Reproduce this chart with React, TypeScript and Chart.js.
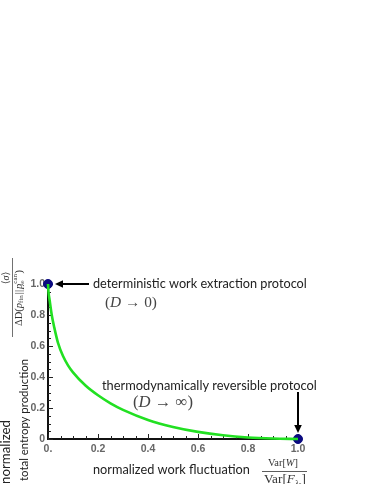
import React, { useEffect, useRef } from "react";
import { Chart, registerables } from "chart.js";

Chart.register(...registerables);

const curveX = [0, 0.002, 0.007, 0.015, 0.025, 0.04, 0.06, 0.08, 0.1, 0.15, 0.2, 0.25, 0.3, 0.4, 0.5, 0.6, 0.7, 0.8, 0.9, 1.0];
const curveY = [1, 0.95, 0.89, 0.8, 0.72, 0.62, 0.535, 0.475, 0.43, 0.345, 0.282, 0.23, 0.188, 0.123, 0.078, 0.046, 0.024, 0.01, 0.003, 0];
const endpointX = [0, 1];
const endpointY = [1, 0];
const xTickLabels = ["0.", "0.2", "0.4", "0.6", "0.8", "1.0"];
const yTickLabels = ["0", "0.2", "0.4", "0.6", "0.8", "1.0"];

const SANS = "Lato, 'Open Sans', sans-serif";
const SERIF = "'Liberation Serif', 'DejaVu Serif', serif";

function fitText(ctx: CanvasRenderingContext2D, text: string, x: number, y: number, width: number, weight: string, family: string, color: string) {
  ctx.font = `${weight} 20px ${family}`;
  const w = ctx.measureText(text).width;
  const size = (20 * width) / w;
  ctx.font = `${weight} ${size}px ${family}`;
  ctx.fillStyle = color;
  ctx.textAlign = "left";
  ctx.textBaseline = "middle";
  ctx.fillText(text, x, y);
}

type Run = { t: string; style?: string; size: number; dy?: number; family?: string; gap?: number };

function drawRuns(ctx: CanvasRenderingContext2D, runs: Run[], cx: number, cy: number, color: string, target?: number) {
  let total = 0;
  for (const r of runs) {
    ctx.font = `${r.style || ""} ${r.size}px ${r.family || SERIF}`;
    total += ctx.measureText(r.t).width + (r.gap || 0);
  }
  const k = target ? target / total : 1;
  let x = cx - (total * k) / 2;
  ctx.fillStyle = color;
  ctx.textAlign = "left";
  ctx.textBaseline = "middle";
  for (const r of runs) {
    ctx.font = `${r.style || ""} ${r.size * k}px ${r.family || SERIF}`;
    ctx.fillText(r.t, x, cy + (r.dy || 0) * k);
    x += ctx.measureText(r.t).width + (r.gap || 0) * k;
  }
  return total * k;
}

function arrow(ctx: CanvasRenderingContext2D, x1: number, y1: number, x2: number, y2: number) {
  const ang = Math.atan2(y2 - y1, x2 - x1);
  const hl = 8, hw = 3.8;
  ctx.strokeStyle = "#000";
  ctx.fillStyle = "#000";
  ctx.lineWidth = 2;
  ctx.beginPath();
  ctx.moveTo(x1, y1);
  ctx.lineTo(x2 - Math.cos(ang) * (hl - 1), y2 - Math.sin(ang) * (hl - 1));
  ctx.stroke();
  ctx.beginPath();
  ctx.moveTo(x2, y2);
  ctx.lineTo(x2 - Math.cos(ang) * hl - Math.sin(ang) * hw, y2 - Math.sin(ang) * hl + Math.cos(ang) * hw);
  ctx.lineTo(x2 - Math.cos(ang) * hl + Math.sin(ang) * hw, y2 - Math.sin(ang) * hl - Math.cos(ang) * hw);
  ctx.closePath();
  ctx.fill();
}

const decorPlugin = {
  id: "decor",
  beforeDatasetsDraw(chart: any) {
    const ctx: CanvasRenderingContext2D = chart.ctx;
    const xs = chart.scales.x;
    const ys = chart.scales.y;
    const area = chart.chartArea;
    ctx.save();
    ctx.strokeStyle = "#222";
    ctx.lineWidth = 1;
    for (let i = 0; i <= 20; i++) {
      const v = i * 0.05;
      const major = i % 4 === 0;
      const len = major ? 5 : 3;
      const px = Math.round(xs.getPixelForValue(v)) + 0.5;
      ctx.beginPath();
      ctx.moveTo(px, area.bottom);
      ctx.lineTo(px, area.bottom - len);
      ctx.stroke();
      const py = Math.round(ys.getPixelForValue(v)) + 0.5;
      ctx.beginPath();
      ctx.moveTo(area.left, py);
      ctx.lineTo(area.left + len, py);
      ctx.stroke();
    }
    ctx.restore();
  },
  afterDraw(chart: any) {
    const ctx: CanvasRenderingContext2D = chart.ctx;
    const xs = chart.scales.x;
    const ys = chart.scales.y;
    ctx.save();
    const p0x = xs.getPixelForValue(0), p0y = ys.getPixelForValue(1);
    const p1x = xs.getPixelForValue(1), p1y = ys.getPixelForValue(0);
    arrow(ctx, p0x + 41, p0y, p0x + 7, p0y);
    arrow(ctx, p1x, p1y - 47, p1x, p1y - 6);

    fitText(ctx, "deterministic work extraction protocol", 93, 284, 214, "normal", SANS, "#222");
    fitText(ctx, "thermodynamically reversible protocol", 102, 386, 215, "normal", SANS, "#222");
    fitText(ctx, "normalized work fluctuation", 93, 470, 157, "normal", SANS, "#222");

    drawRuns(ctx, [
      { t: "(", size: 15 },
      { t: "D", size: 15, style: "italic" },
      { t: " → 0)", size: 15 },
    ], 131, 303, "#444", 52);
    drawRuns(ctx, [
      { t: "(", size: 15 },
      { t: "D", size: 15, style: "italic" },
      { t: " → ∞)", size: 15 },
    ], 163, 403, "#444", 60);

    // x-axis fraction
    drawRuns(ctx, [
      { t: "Var[", size: 11 },
      { t: "W", size: 11, style: "italic" },
      { t: "]", size: 11 },
    ], 283, 463, "#333", 30);
    ctx.strokeStyle = "#333";
    ctx.lineWidth = 0.8;
    ctx.beginPath();
    ctx.moveTo(262, 471.5);
    ctx.lineTo(307, 471.5);
    ctx.stroke();
    drawRuns(ctx, [
      { t: "Var[", size: 11 },
      { t: "F", size: 11, style: "italic" },
      { t: "λ", size: 7, style: "italic", dy: 3 },
      { t: "0", size: 5, dy: 4.5 },
      { t: "]", size: 11 },
    ], 285, 480, "#333", 42);

    // y-axis titles (rotated)
    ctx.save();
    ctx.translate(24, 420);
    ctx.rotate(-Math.PI / 2);
    ctx.font = `normal 20px ${SANS}`;
    let w = ctx.measureText("total entropy production").width;
    ctx.font = `normal ${(20 * 122) / w}px ${SANS}`;
    ctx.fillStyle = "#222";
    ctx.textAlign = "center";
    ctx.textBaseline = "middle";
    ctx.fillText("total entropy production", 0, 0);
    ctx.restore();

    ctx.save();
    ctx.translate(6, 452);
    ctx.rotate(-Math.PI / 2);
    ctx.font = `normal 20px ${SANS}`;
    w = ctx.measureText("normalized").width;
    ctx.font = `normal ${(20 * 64) / w}px ${SANS}`;
    ctx.fillStyle = "#222";
    ctx.textAlign = "center";
    ctx.textBaseline = "middle";
    ctx.fillText("normalized", 0, 0);
    ctx.restore();

    // y fraction
    ctx.save();
    ctx.translate(12.5, 298);
    ctx.rotate(-Math.PI / 2);
    drawRuns(ctx, [
      { t: "⟨", size: 10 },
      { t: "σ", size: 10, style: "italic" },
      { t: "⟩", size: 10 },
    ], 20, -6, "#333");
    ctx.strokeStyle = "#333";
    ctx.lineWidth = 0.7;
    ctx.beginPath();
    ctx.moveTo(-39, 0);
    ctx.lineTo(40, 0);
    ctx.stroke();
    drawRuns(ctx, [
      { t: "ΔD(", size: 10.5 },
      { t: "p", size: 10.5, style: "italic" },
      { t: "fin", size: 7, dy: 2.5, gap: 1 },
      { t: "||", size: 10.5, gap: 1 },
      { t: "p", size: 10.5, style: "italic" },
      { t: "can", size: 7, dy: -3.5, gap: -12 },
      { t: "λ", size: 7, style: "italic", dy: 2.8 },
      { t: "0", size: 5, dy: 4, gap: 7 },
      { t: ")", size: 10.5 },
    ], 0, 6.5, "#333");
    ctx.restore();

    ctx.restore();
  },
};

export default function App() {
  const ref = useRef<HTMLCanvasElement | null>(null);
  useEffect(() => {
    if (!ref.current) return;
    const chart = new Chart(ref.current, {
      type: "scatter",
      data: {
        datasets: [
          {
            data: curveX.map((x, i) => ({ x, y: curveY[i] })),
            showLine: true,
            borderColor: "#22e022",
            borderWidth: 2.6,
            pointRadius: 0,
            cubicInterpolationMode: "monotone",
            clip: false,
          } as any,
          {
            data: endpointX.map((x, i) => ({ x, y: endpointY[i] })),
            showLine: false,
            pointRadius: 4.5,
            backgroundColor: "#0a0a80",
            borderColor: "#0a0a80",
            clip: false,
          } as any,
        ],
      },
      options: {
        responsive: false,
        animation: false,
        devicePixelRatio: 1,
        layout: { padding: { left: 0, top: 284, right: 76, bottom: 0 } },
        plugins: { legend: { display: false }, tooltip: { enabled: false } },
        scales: {
          x: {
            type: "linear",
            min: 0,
            max: 1,
            afterFit: (s: any) => { s.height = 45; },
            grid: { display: false, drawTicks: false },
            border: { display: true, color: "#111", width: 2 },
            ticks: {
              stepSize: 0.2,
              padding: 4,
              color: "#666",
              font: { family: "'Liberation Sans', Arial, sans-serif", size: 10.5, weight: "bold" },
              callback: (v: any) => xTickLabels[Math.round(Number(v) / 0.2)] ?? "",
            },
          },
          y: {
            type: "linear",
            min: 0,
            max: 1,
            afterFit: (s: any) => { s.width = 48; },
            grid: { display: false, drawTicks: false },
            border: { display: true, color: "#111", width: 2 },
            ticks: {
              stepSize: 0.2,
              padding: 3,
              color: "#666",
              font: { family: "'Liberation Sans', Arial, sans-serif", size: 10.5, weight: "bold" },
              callback: (v: any) => yTickLabels[Math.round(Number(v) / 0.2)] ?? "",
            },
          },
        },
      } as any,
      plugins: [decorPlugin],
    });
    return () => chart.destroy();
  }, []);
  return (
    <div style={{ position: "absolute", left: 0, top: 0, width: 374, height: 484 }}>
      <canvas ref={ref} width={374} height={484} style={{ display: "block" }} />
    </div>
  );
}
